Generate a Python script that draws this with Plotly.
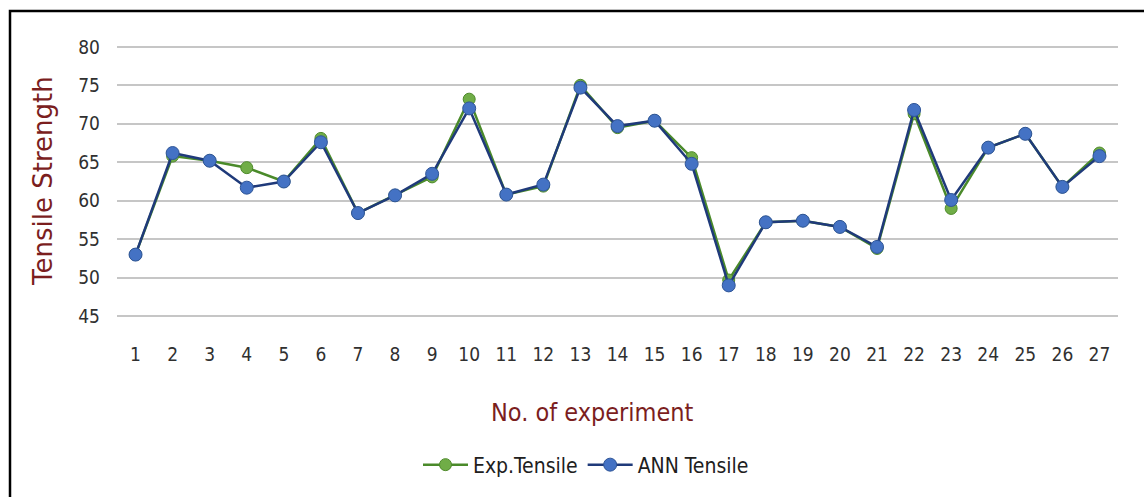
import plotly.graph_objects as go

experiments = list(range(1, 28))
exp_tensile = [53.0, 65.8, 65.2, 64.3, 62.5, 68.1, 58.4, 60.7, 63.1, 73.2,
               60.8, 61.9, 75.0, 69.5, 70.4, 65.6, 49.7, 57.2, 57.4, 56.6,
               53.8, 71.3, 59.0, 66.9, 68.7, 61.8, 66.2]
ann_tensile = [53.0, 66.2, 65.2, 61.7, 62.5, 67.6, 58.4, 60.7, 63.5, 72.0,
               60.8, 62.1, 74.7, 69.7, 70.4, 64.8, 49.0, 57.2, 57.4, 56.6,
               54.0, 71.8, 60.1, 66.9, 68.7, 61.8, 65.8]
y_ticks = [45, 50, 55, 60, 65, 70, 75, 80]

narrow = "DejaVu Sans Condensed, Liberation Sans Narrow, Roboto, sans-serif"
title_red = "#7B1E1E"

fig = go.Figure()
fig.add_trace(go.Scatter(
    x=experiments, y=exp_tensile, name="Exp.Tensile", mode="lines+markers",
    line=dict(color="#4A8A2A", width=2.5),
    marker=dict(color="#70AD47", size=12, line=dict(color="#4E8A2A", width=1)),
))
fig.add_trace(go.Scatter(
    x=experiments, y=ann_tensile, name="ANN Tensile", mode="lines+markers",
    line=dict(color="#1F3A7A", width=2.5),
    marker=dict(color="#4472C4", size=13, line=dict(color="#2F5597", width=1)),
))

# plot area: x 117..1118, y 43..320 (range padded by 0.5 so edge gridlines show)
fig.update_layout(
    width=1144, height=497,
    margin=dict(l=117, r=26, t=43, b=177),
    paper_bgcolor="white", plot_bgcolor="white",
    font=dict(family=narrow, size=18, color="#404040"),
    showlegend=True,
    legend=dict(orientation="h", x=(586 - 117) / 1001, y=(320 - 465) / 277,
                xanchor="center", yanchor="middle",
                font=dict(family=narrow, size=21, color="#202020"),
                itemwidth=45, tracegroupgap=0),
    xaxis=dict(
        range=[0.5, 27.5], tickmode="array", tickvals=experiments,
        ticktext=[str(e) for e in experiments], showgrid=False, zeroline=False,
        showline=False, ticks="", ticklabelstandoff=21,
        tickfont=dict(family=narrow, size=19, color="#303030"),
    ),
    yaxis=dict(
        range=[44.5, 80.5], tickmode="array", tickvals=y_ticks,
        showgrid=True, gridcolor="#C6C6C6", gridwidth=2, zeroline=False,
        showline=False, ticks="", ticklabelstandoff=16,
        tickfont=dict(family=narrow, size=19, color="#303030"),
    ),
    annotations=[
        dict(text="Tensile Strength", xref="paper", yref="paper",
             x=(43 - 117) / 1001, y=(320 - 181) / 277, xanchor="center", yanchor="middle",
             textangle=-90, showarrow=False,
             font=dict(family="DejaVu Sans, sans-serif", size=26, color=title_red)),
        dict(text="No. of experiment", xref="paper", yref="paper",
             x=(592 - 117) / 1001, y=(320 - 412) / 277, xanchor="center", yanchor="middle",
             showarrow=False,
             font=dict(family=narrow, size=25, color=title_red)),
    ],
    shapes=[
        dict(type="rect", xref="paper", yref="paper",
             x0=(10 - 117) / 1001, x1=(1150 - 117) / 1001,
             y0=(320 - 505) / 277, y1=(320 - 11) / 277,
             line=dict(color="black", width=2.5), fillcolor="rgba(0,0,0,0)"),
    ],
)

fig.write_html("out.html")
